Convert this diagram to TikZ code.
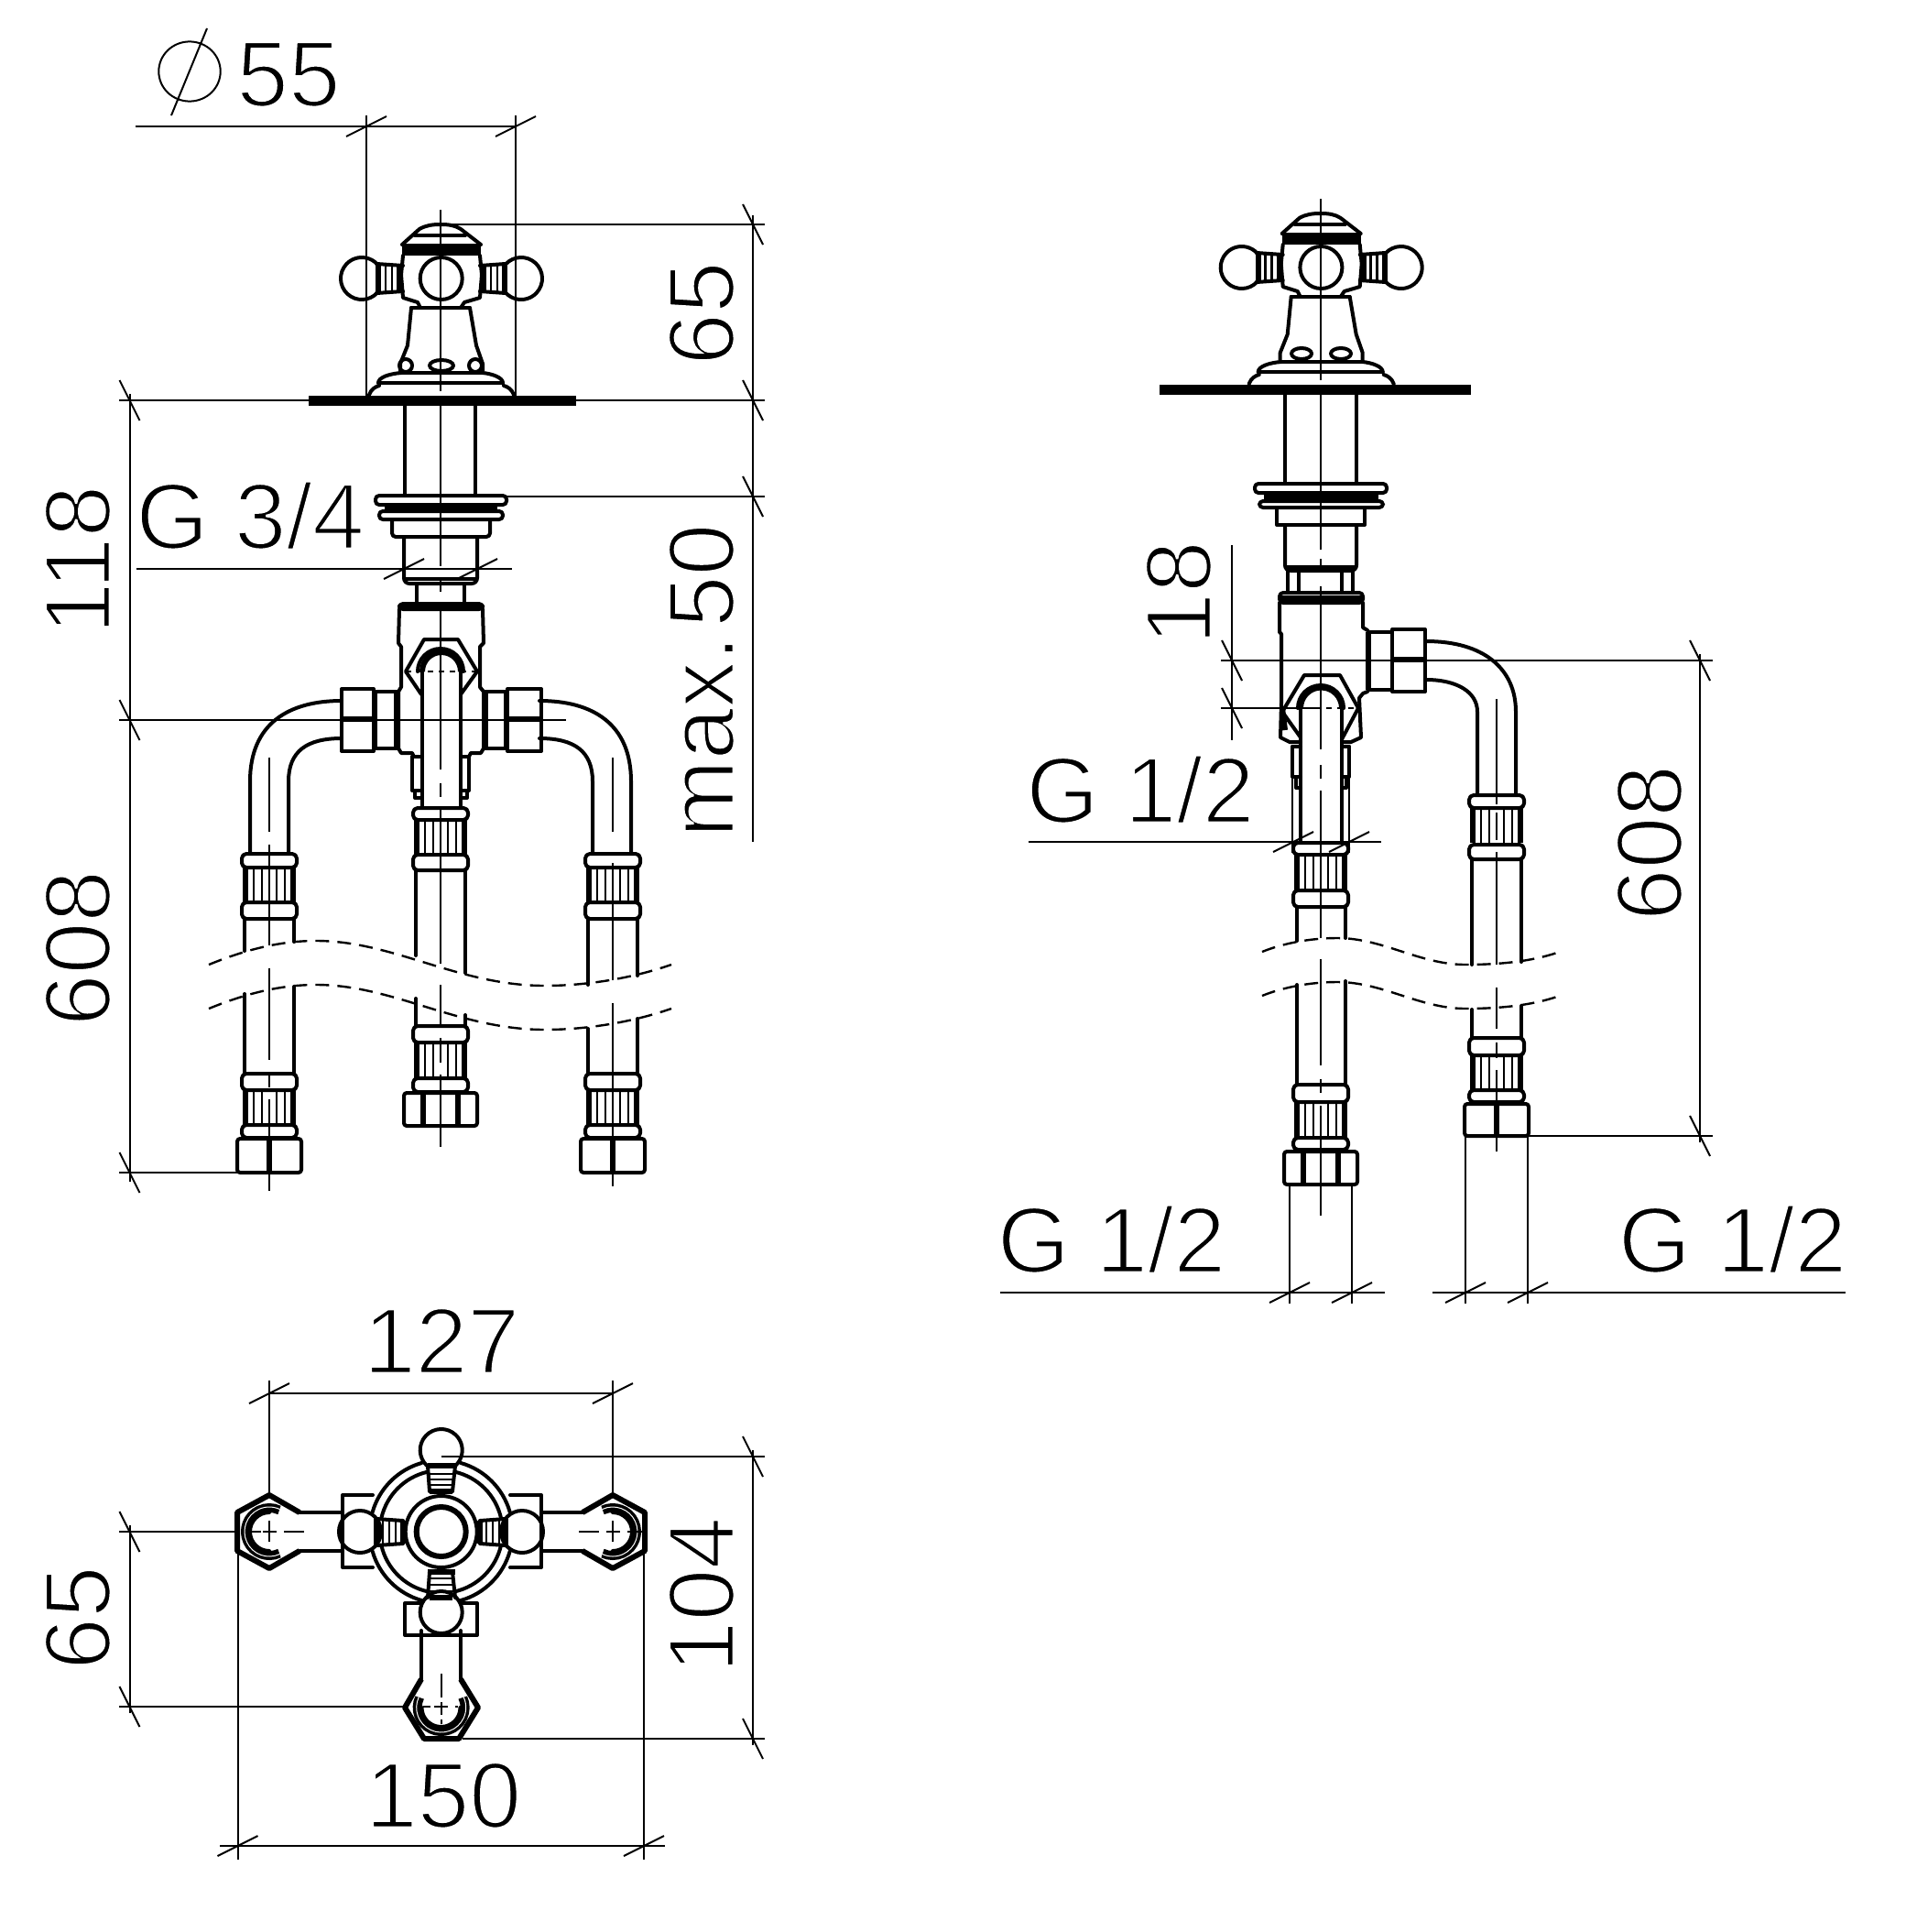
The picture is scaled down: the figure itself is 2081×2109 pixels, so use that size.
\documentclass[tikz,border=0pt]{standalone}
\usepackage{fontspec}
\setmainfont{Liberation Sans}
\tikzset{
  part/.style={line width=2pt,line join=round,line cap=round},
  thk/.style={line width=3pt,line join=round},
  rib/.style={line width=1.4pt},
  dimen/.style={line width=1pt},
  ctr/.style={line width=1pt},
  wave/.style={line width=1.2pt,dash pattern=on 7.5pt off 4.5pt},
  lab/.style={inner sep=0pt,font=\fontsize{51}{51}\selectfont},
  labv/.style={lab,rotate=90,anchor=base},
  labh/.style={lab,anchor=base}
}
\newcommand\lighttext[1]{\special{pdf:code 2 Tr 1 1 1 RG 1.4 w}#1\special{pdf:code 0 Tr 0 0 0 RG}}
\newcommand\tickH[2]{\draw[dimen] ({#1-22},{#2+11})--({#1+22},{#2-11});}
\newcommand\tickV[2]{\draw[dimen] ({#1-11},{#2-22})--({#1+11},{#2+22});}
\newcommand\myCollar[3]{\draw[part,fill=white,rounded corners=2.5pt] ({#1-30},#2) rectangle ({#1+30},#3);}
\newcommand\myRib[3]{%
  \draw[thk] ({#1-26},#2)--({#1-26},#3) ({#1+26},#2)--({#1+26},#3);
  \foreach \d in {-17,-8,8,17}{\draw[rib] ({#1+\d},#2)--({#1+\d},#3);}
}
\newcommand\myNut[4]{\draw[part,rounded corners=1.5pt] ({#1-#4},#2) rectangle ({#1+#4},#3);}
\newcommand\myBall[2]{\draw[part] (#1,#2) circle[radius=23];}
% open ball: centre, start angle, end angle (angles read with y downward)
\newcommand\myOpenBall[4]{\draw[part] ({#1+23*cos(#3)},{#2+23*sin(#3)}) arc[start angle=#3,end angle=#4,radius=23];}
\newcommand\myHandle{%
  % dome
  \draw[part] (439,267)--(458,250) .. controls (465,246) and (472,245) .. (481,245) .. controls (490,245) and (497,246) .. (503,250)--(525,267);
  \draw[part] (453,257)--(508,257);
  \fill (439,266) rectangle (525,279);
  % body
  \draw[part] (440,279)--(438,300)--(440,325)--(456,330)--(459,336);
  \draw[part] (524,279)--(526,300)--(524,325)--(507,330)--(503,336);
  \draw[part] (449,336)--(513,336);
  \draw[part] (449,336)--(445,377)--(437,397)--(437,407);
  \draw[part] (513,336)--(520,377)--(527,397)--(527,407);
  % arms
  \myOpenBall{395}{304}{43}{317}\myOpenBall{569}{304}{-137}{137}\myBall{481.7}{304}
  \draw[part] (411,288)--(440,290) (411,320)--(440,318);
  \draw[part] (552,288)--(524,290) (552,320)--(524,318);
  \draw[thk] (413,288)--(413,320) (436,290)--(436,318) (551,288)--(551,320) (528,290)--(528,318);
  \foreach \d in {421,428}{\draw[rib] (\d,290)--(\d,318);}
  \foreach \d in {536,543}{\draw[rib] (\d,290)--(\d,318);}
  % base
  \draw[part] (438,407)--(527,407) (413,418)--(549,418);
  \draw[part] (413,418) .. controls (413,412) and (425,408) .. (438,407);
  \draw[part] (549,418) .. controls (549,412) and (537,408) .. (527,407);
  \draw[part] (403,431) .. controls (405,425) and (410,422) .. (414,421);
  \draw[part] (561,431) .. controls (559,425) and (554,422) .. (550,421);
}
% hose group: cx, then left/right end above the break, left/right start below it
\newcommand\myPipeCaps[5]{%
  \myCollar{#1}{1172}{1190}\myRib{#1}{1190}{1228}\myCollar{#1}{1228}{1242}
  \myNut{#1}{1243}{1280}{35}
  \draw[thk] (#1,1243)--(#1,1280);
  \draw[part] ({#1-27},#4)--({#1-27},1172) ({#1+27},#5)--({#1+27},1172);
  \myCollar{#1}{932}{947}\myRib{#1}{947}{985}\myCollar{#1}{985}{1003}
  \draw[part] ({#1-27},1003)--({#1-27},#2) ({#1+27},1003)--({#1+27},#3);
}
\begin{document}
\begin{tikzpicture}[x=0.5pt,y=-0.5pt]
\useasboundingbox (0,0) rectangle (2081,2109);
% ---------- labels
\node[labh] (t55) at (315,116) {\lighttext{55}};
\node[labh] (tg34) at (273,599) {\lighttext{G 3/4}};
\node[labv] (t65a) at (801,342) {\lighttext{65}};
\node[labv] (tmax) at (801,743) {\lighttext{max.\kern-10pt\ 50}};
\node[labv] (t118) at (120,611) {\lighttext{118}};
\node[labv] (t608a) at (120,1035) {\lighttext{608}};
\node[labh] (t127) at (482,1499) {\lighttext{127}};
\node[labh] (t150) at (484,1995) {\lighttext{150}};
\node[labv] (t104) at (801,1741) {\lighttext{104}};
\node[labv] (t65b) at (120,1766) {\lighttext{65}};
\node[labv] (t18) at (1322,647) {\lighttext{18}};
\node[labh] (tg12a) at (1245,898) {\lighttext{G 1/2}};
\node[labv] (t608b) at (1836,920) {\lighttext{608}};
\node[labh] (tg12b) at (1213.5,1389) {\lighttext{G 1/2}};
\node[labh] (tg12c) at (1891.5,1389) {\lighttext{G 1/2}};

% ---------- LEFT VIEW
\myHandle
\draw[part] (443,399) circle[radius=7] (519,399) circle[radius=7];
\draw[part] (482,399) ellipse[x radius=13,y radius=6];
\fill (337,432) rectangle (629,443);
\draw[part] (442,443)--(442,541) (519,443)--(519,541);
\draw[part,rounded corners=2pt] (410,541) rectangle (553,551);
\fill (420,549) rectangle (543,557);
\draw[part,rounded corners=2pt] (414,558) rectangle (549,567);
\draw[part,rounded corners=2pt] (428,567)--(428,586)--(535,586)--(535,567);
\draw[part,rounded corners=3pt] (441,586)--(441,637)--(521,637)--(521,586);
\draw[part] (443,632)--(519,632);
\draw[part] (455,637)--(455,658) (507,637)--(507,658);
% manifold
\draw[part,rounded corners=2pt] (436,659) rectangle (527,665);
\draw[thk] (437,661.5)--(526,661.5);
\draw[part] (436,665)--(435,702)--(438,706)--(438,750)--(435,755)--(435,817)--(438,822)--(450,822)--(452,826);
\draw[part] (527,665)--(528,702)--(524,706)--(524,750)--(528,755)--(528,817)--(525,822)--(514,822)--(512,826);
\draw[part] (410,755)--(435,755) (410,817)--(435,817) (528,755)--(552,755) (528,817)--(552,817);
\draw[thk] (433,755)--(433,817) (530,755)--(530,817);
\draw[part] (373,752) rectangle (408,820) (554,752) rectangle (591,820);
\draw[part] (410,755)--(410,817) (552,755)--(552,817);
\draw[thk] (373,785)--(408,785) (554,785)--(591,785);
% hex + tube
\draw[part] (460,758)--(443,733)--(463,698)--(500,698)--(521,733)--(503,758);
\draw[part] (456,733) arc[start angle=180,end angle=360,radius=25];
\draw[thk] (461,733) arc[start angle=180,end angle=360,radius=21];
\draw[part] (461,733)--(461,882) (503,733)--(503,882);
\draw[ctr,dashed] (443,733)--(521,733);
\draw[part] (450,826)--(450,863)--(460,863) (512,826)--(512,863)--(503,863);
\draw[part] (453,863)--(453,871)--(460,871) (510,863)--(510,871)--(503,871);
\draw[part] (450,826)--(461,826) (512,826)--(503,826);
% side pipes
\draw[part] (373,765) .. controls (315,765) and (273,790) .. (273,853)--(273,932);
\draw[part] (373,806) .. controls (335,806) and (315,820) .. (315,853)--(315,932);
\draw[part] (589,765) .. controls (647,765) and (689,790) .. (689,853)--(689,932);
\draw[part] (589,806) .. controls (627,806) and (647,820) .. (647,853)--(647,932);
\myPipeCaps{294}{1038}{1028}{1085}{1077}
\myPipeCaps{669}{1075}{1065}{1123}{1112}
% centre hose
\myCollar{481}{882}{895}\myRib{481}{895}{933}\myCollar{481}{933}{950}
\draw[part] (454,950)--(454,1043) (508,950)--(508,1062);
\draw[part] (454,1090)--(454,1120) (508,1108)--(508,1120);
\myCollar{481}{1120}{1138}\myRib{481}{1138}{1177}\myCollar{481}{1177}{1192}
\myNut{481}{1193}{1229}{40}
\draw[thk] (462,1193)--(462,1229) (500,1193)--(500,1229);
% waves
\foreach \o in {0,48}{
\draw[wave] (228,{1053+\o}) .. controls (260,{1040+\o}) and (300,{1027+\o}) .. (345,{1027+\o}) .. controls (430,{1027+\o}) and (500,{1076+\o}) .. (595,{1076+\o}) .. controls (640,{1076+\o}) and (690,{1068+\o}) .. (733,{1053+\o});
\draw[wave] (1378,{1039+\o}) .. controls (1400,{1030+\o}) and (1430,{1024+\o}) .. (1460,{1024+\o}) .. controls (1510,{1024+\o}) and (1550,{1053+\o}) .. (1600,{1053+\o}) .. controls (1635,{1053+\o}) and (1670,{1050+\o}) .. (1700,{1040+\o});
}
% centre lines
\draw[ctr] (481,229)--(481,427) (481,443)--(481,618) (481,630)--(481,646) (481,665)--(481,840) (481,855)--(481,870) (481,882)--(481,1052) (481,1075)--(481,1118) (481,1133)--(481,1160) (481,1173)--(481,1252);
\draw[ctr] (294,827)--(294,908) (294,922)--(294,1032) (294,1057)--(294,1157) (294,1173)--(294,1187) (294,1200)--(294,1227) (294,1230)--(294,1300);
\draw[ctr] (669,827)--(669,908) (669,942)--(669,1070) (669,1095)--(669,1295);
% dimension lines left view
\draw[dimen] (147.5,138)--(563,138) (400,126)--(400,432) (563,126)--(563,432);
\tickH{400}{138}\tickH{563}{138}
\draw[dimen] (207,78) ellipse[x radius=33.7,y radius=32.6] (226,31)--(187,126);
\draw[dimen] (481,245)--(835,245) (130,437)--(337,437) (629,437)--(835,437) (553,542)--(835,542);
\draw[dimen] (822,235)--(822,919);
\tickV{822}{245}\tickV{822}{437}\tickV{822}{542}
\draw[dimen] (148.5,621)--(559,621);
\tickH{441}{621}\tickH{521}{621}
\draw[dimen] (130,786)--(618,786) (130,1280)--(259,1280) (141.5,430)--(141.5,1290);
\tickV{141.5}{437}\tickV{141.5}{786}\tickV{141.5}{1280}

% ---------- BOTTOM VIEW
\draw[dimen] (294,1521)--(669,1521) (294,1507)--(294,1632) (669,1507)--(669,1632);
\tickH{294}{1521}\tickH{669}{1521}
\foreach \a in {16,106,196,286}{
  \draw[part] ({481.7+78*cos(\a)},{1672+78*sin(\a)}) arc[start angle=\a,end angle=\a+58,radius=78];
  \draw[part] ({481.7+67*cos(\a-3)},{1672+67*sin(\a-3)}) arc[start angle=\a-3,end angle=\a+61,radius=67];
}
\draw[thk] (481.7,1672) circle[radius=27];
\draw[part] (481.7,1672) circle[radius=39];
% ribs
\draw[thk] (467,1600)--(497,1600) (469,1628)--(494,1628) (467,1716)--(497,1716) (469,1744)--(494,1744);
\draw[thk] (411,1658)--(411,1687) (440,1660)--(440,1685) (552,1658)--(552,1687) (524,1660)--(524,1685);
\draw[part] (467,1600)--(469,1628) (497,1600)--(494,1628) (467,1744)--(469,1716) (497,1744)--(494,1716);
\draw[part] (411,1658)--(440,1660) (411,1687)--(440,1685) (552,1658)--(524,1660) (552,1687)--(524,1685);
\foreach \y in {1609,1615,1621,1723,1730,1737}{\draw[rib] (469,\y)--(495,\y);}
\foreach \x in {418,425,432,531,538,545}{\draw[rib] (\x,1660)--(\x,1685);}
\myOpenBall{481.7}{1583}{133}{407}\myBall{393}{1672}\myBall{570}{1672}\myBall{481.7}{1760}
\draw[part] (407,1632)--(374,1632)--(374,1711)--(407,1711);
\draw[part] (557,1632)--(591,1632)--(591,1711)--(557,1711);
\draw[part] (458,1750)--(442,1750)--(442,1785)--(521,1785)--(521,1750)--(505,1750);
% side pipes of bottom view
\draw[part] (374,1651)--(327,1651) (374,1693)--(327,1693);
\draw[part] (592,1651)--(636,1651) (592,1693)--(636,1693);
\draw[part] (460,1780)--(460,1833) (503,1780)--(503,1833);
\foreach \cx/\sa in {294/65,669/-115}{
  \draw[line width=5pt] ({\cx+26*cos(\sa)},{1672+26*sin(\sa)}) arc[start angle=\sa,end angle=\sa+230,radius=26];
  \draw[line width=0.5pt,white] ({\cx+27*cos(\sa)},{1672+27*sin(\sa)}) arc[start angle=\sa,end angle=\sa+230,radius=27];
  \draw[part] ({\cx+21*cos(\sa+25)},{1672+21*sin(\sa+25)}) arc[start angle=\sa+25,end angle=\sa+205,radius=21];
}
\draw[line width=5pt] ({481.7+26*cos(205)},{1864+26*sin(205)}) arc[start angle=205,end angle=-25,radius=26];
\draw[line width=0.5pt,white] ({481.7+27*cos(205)},{1864+27*sin(205)}) arc[start angle=205,end angle=-25,radius=27];
\draw[part] (460.5,1864) arc[start angle=180,end angle=0,radius=21];
\draw[thk] (327,1651)--(294,1632)--(259,1651)--(259,1693)--(294,1712)--(327,1693);
\draw[thk] (636,1651)--(669,1632)--(704,1651)--(704,1693)--(669,1712)--(636,1693);
\draw[thk] (460,1833)--(442,1864)--(463,1898)--(501,1898)--(522,1864)--(503,1833);
\draw[ctr] (275,1672)--(285,1672) (287,1672)--(302,1672) (310,1672)--(332,1672) (294,1660)--(294,1683);
\draw[ctr] (632,1672)--(654,1672) (662,1672)--(677,1672) (685,1672)--(706,1672) (669,1660)--(669,1683);
\draw[ctr] (481.7,1827)--(481.7,1853) (481.7,1858)--(481.7,1872) (481.7,1877)--(481.7,1882) (462,1863)--(470,1863) (474,1863)--(489,1863) (497,1863)--(500,1863);
\draw[dimen] (481.7,1590)--(835,1590) (505,1898)--(835,1898) (822,1583)--(822,1905);
\tickV{822}{1590}\tickV{822}{1898}
\draw[dimen] (130,1672)--(259,1672) (130,1863)--(442,1863) (141.5,1665)--(141.5,1870);
\tickV{141.5}{1672}\tickV{141.5}{1863}
\draw[dimen] (259.5,1693)--(259.5,2030) (703,1693)--(703,2030) (240,2015)--(726,2015);
\tickH{259.5}{2015}\tickH{703}{2015}

% ---------- RIGHT VIEW
\begin{scope}[shift={(960.7,-12)}]
\myHandle
\end{scope}
\draw[part] (1421,386) ellipse[x radius=11,y radius=6] (1464,386) ellipse[x radius=11,y radius=6];
\fill (1266,420) rectangle (1606,431);
\draw[part] (1403,431)--(1403,528) (1481,431)--(1481,528);
\draw[part,rounded corners=2pt] (1370,528) rectangle (1514,538);
\fill (1380,539) rectangle (1505,545);
\draw[part,rounded corners=2pt] (1375,547) rectangle (1510,554);
\draw[part] (1394,554)--(1394,573)--(1490,573)--(1490,554);
\draw[part,rounded corners=3pt] (1403,573)--(1403,623)--(1481,623)--(1481,573);
\draw[thk] (1404,620)--(1480,620);
\draw[part] (1406,623)--(1406,647) (1418,623)--(1418,647) (1465,623)--(1465,647) (1477,623)--(1477,647);
\draw[part,rounded corners=2pt] (1397,647) rectangle (1488,658);
\draw[thk] (1398,653)--(1487,653);
\draw[part] (1397,658)--(1397,690)--(1399,692)--(1399,767)--(1398,805)--(1408,810)--(1420,810);
\draw[thk] (1400,773)--(1403,797);
\draw[part] (1488,658)--(1488,685)--(1493,688) (1493,755)--(1488,757)--(1484,762)--(1486,805)--(1475,810)--(1465,810);
\draw[thk] (1494,690)--(1494,753);
\draw[part] (1495,690)--(1520,690) (1495,753)--(1520,753);
\draw[part] (1520,687) rectangle (1556,755);
\draw[thk] (1520,720)--(1556,720);
\draw[part] (1420,805)--(1400,777)--(1424,737)--(1463,737)--(1483,773)--(1465,807);
\draw[part] (1417,773) arc[start angle=180,end angle=360,radius=25];
\draw[thk] (1420,773) arc[start angle=180,end angle=360,radius=22.5];
\draw[part] (1420,773)--(1420,918) (1465,773)--(1465,918);
\draw[ctr,dashed] (1400,773)--(1483,773);
\draw[part] (1411,815)--(1411,848)--(1420,848) (1473,815)--(1473,848)--(1465,848) (1415,848)--(1415,860)--(1420,860) (1470,848)--(1470,860)--(1465,860);
\draw[part] (1411,815)--(1420,815) (1473,815)--(1465,815);
\myCollar{1442}{920}{933}\myRib{1442}{933}{972}\myCollar{1442}{972}{990}
\draw[part] (1416,990)--(1416,1027) (1469,990)--(1469,1024);
\draw[part] (1416,1075)--(1416,1184) (1469,1071)--(1469,1184);
\myCollar{1442}{1184}{1203}\myRib{1442}{1203}{1242}\myCollar{1442}{1242}{1255}
\myNut{1442}{1257}{1293}{40}
\draw[thk] (1423,1257)--(1423,1293) (1461,1257)--(1461,1293);
% right hose
\draw[part] (1557,700) .. controls (1620,700) and (1655,730) .. (1655,777)--(1655,868);
\draw[part] (1557,742) .. controls (1590,742) and (1613,755) .. (1613,777)--(1613,868);
\myCollar{1634}{868}{882}\myRib{1634}{882}{920}\myCollar{1634}{922}{938}
\draw[part] (1607,938)--(1607,1053) (1661,938)--(1661,1050);
\draw[part] (1607,1102)--(1607,1133) (1661,1098)--(1661,1133);
\myCollar{1634}{1133}{1152}\myRib{1634}{1152}{1190}\myCollar{1634}{1190}{1203}
\myNut{1634}{1205}{1240}{35}
\draw[thk] (1634,1205)--(1634,1240);
% centre lines
\draw[ctr] (1442,217)--(1442,415) (1442,431)--(1442,600) (1442,610)--(1442,625) (1442,640)--(1442,818) (1442,835)--(1442,850) (1442,863)--(1442,1024) (1442,1047)--(1442,1163) (1442,1178)--(1442,1193) (1442,1207)--(1442,1327);
\draw[ctr] (1634,763)--(1634,878) (1634,887)--(1634,917) (1634,930)--(1634,1053) (1634,1078)--(1634,1123) (1634,1138)--(1634,1155) (1634,1168)--(1634,1257);
% dims
\draw[dimen] (1345,595)--(1345,808) (1333,721)--(1870,721) (1333,773)--(1442,773);
\tickV{1345}{721}\tickV{1345}{773}
\draw[dimen] (1856,714)--(1856,1247) (1669,1240)--(1870,1240);
\tickV{1856}{721}\tickV{1856}{1240}
\draw[dimen] (1123,919)--(1508,919) (1411,815)--(1411,931) (1473,815)--(1473,931);
\tickH{1412}{919}\tickH{1473}{919}
\draw[dimen] (1092,1411)--(1512,1411) (1564,1411)--(2015,1411);
\draw[dimen] (1408,1293)--(1408,1423) (1476,1293)--(1476,1423) (1600,1240)--(1600,1423) (1668,1240)--(1668,1423);
\tickH{1408}{1411}\tickH{1476}{1411}\tickH{1600}{1411}\tickH{1668}{1411}
\end{tikzpicture}
\end{document}
